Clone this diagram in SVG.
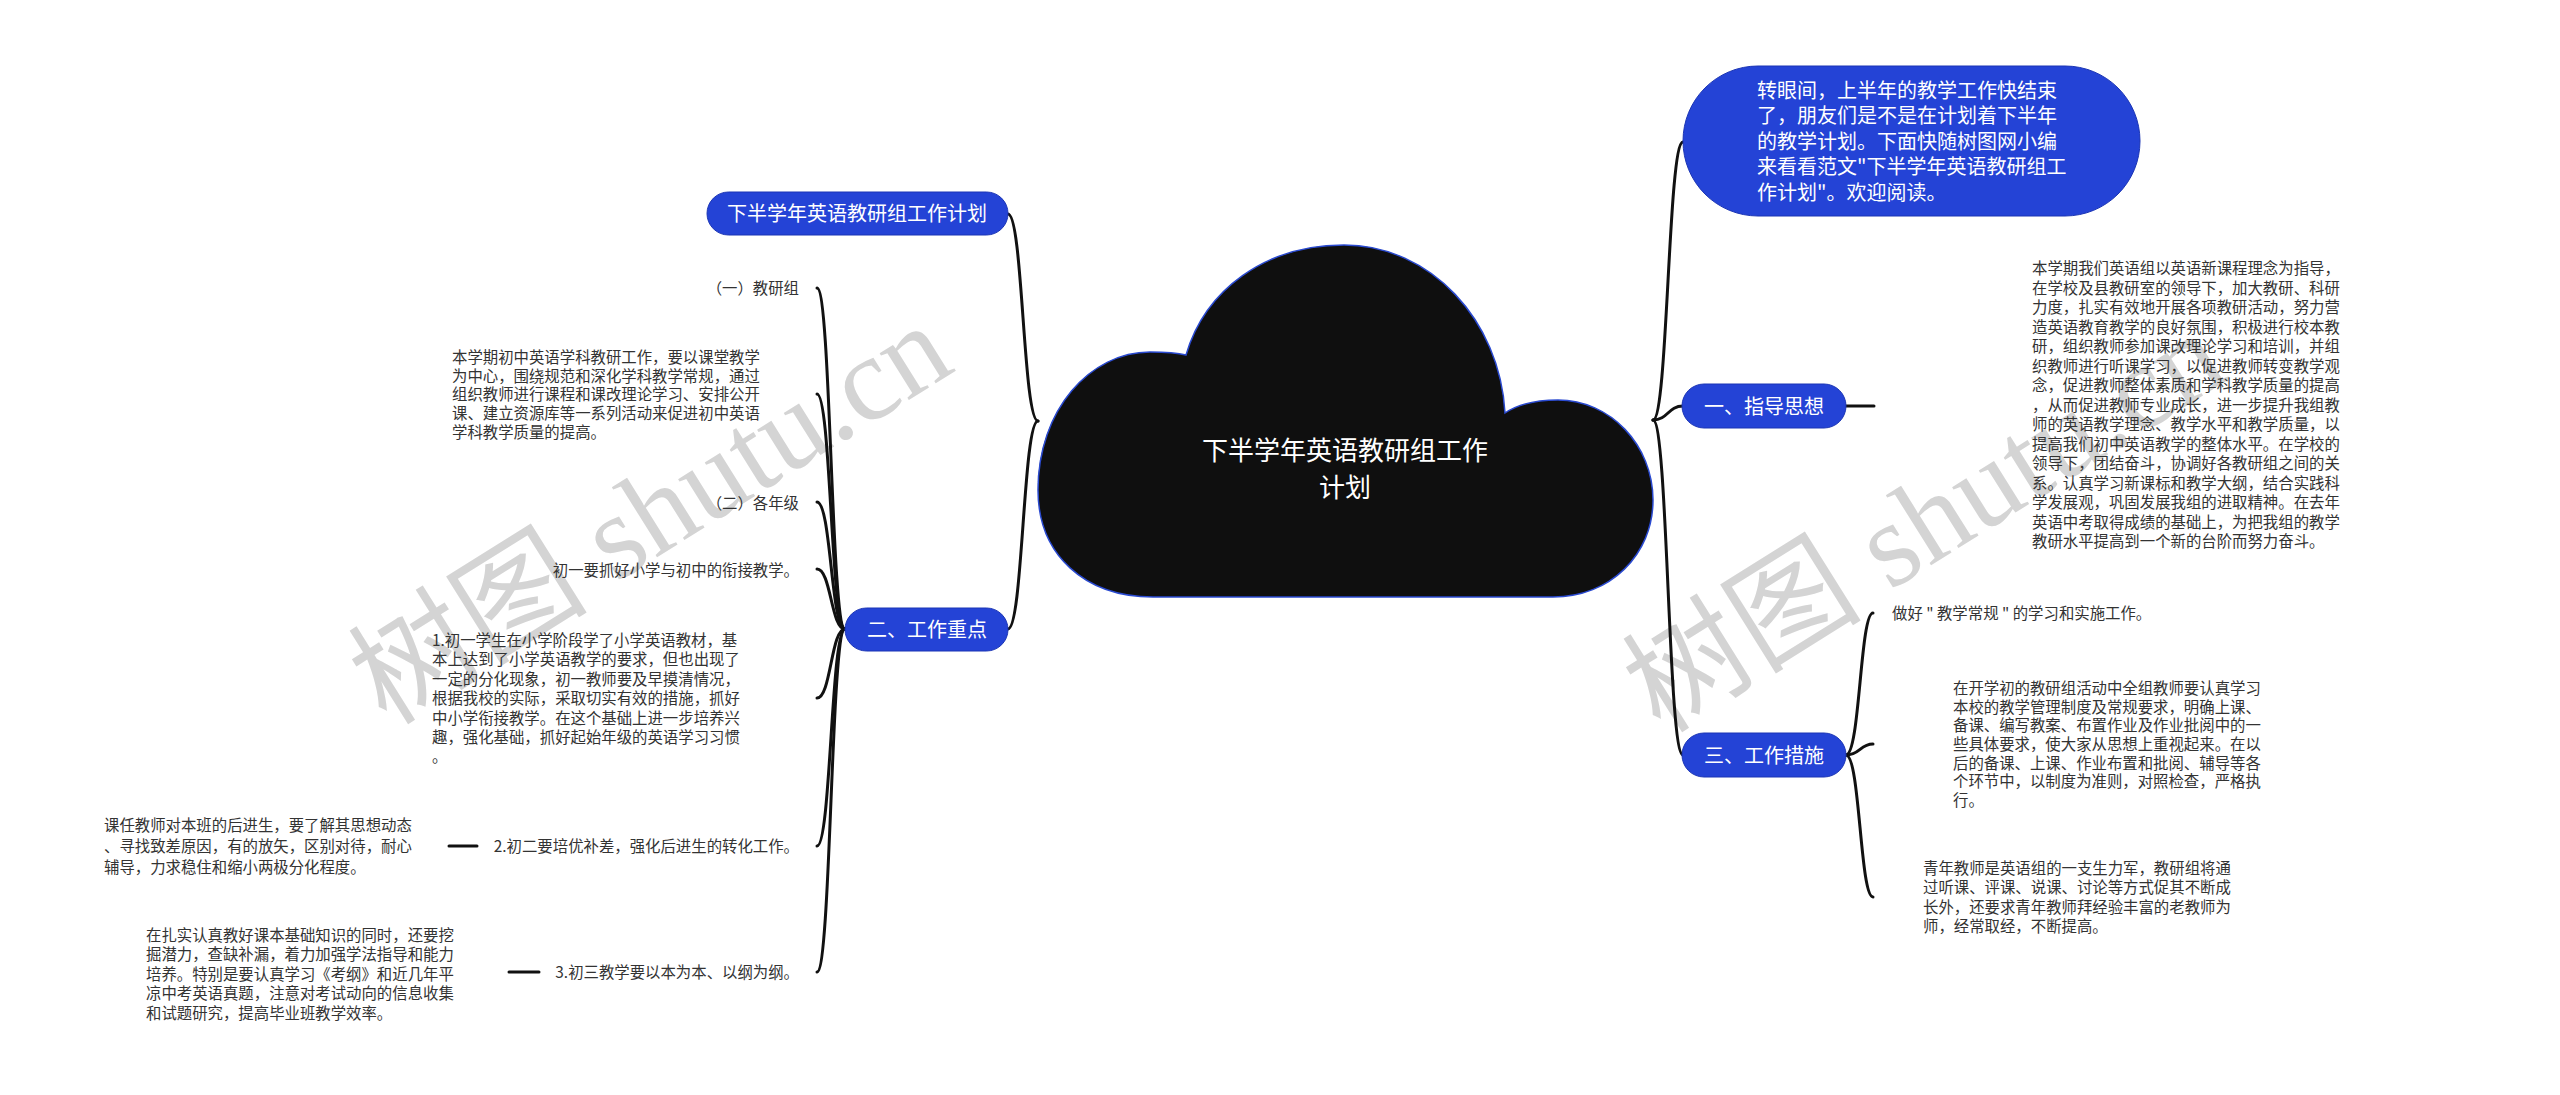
<svg xmlns="http://www.w3.org/2000/svg" width="2560" height="1095" viewBox="0 0 2560 1095">
<style>
.t{font-family:"Noto Sans CJK SC","Noto Sans",sans-serif;font-size:15.4px;fill:#333}
.w{font-family:"Noto Sans CJK SC","Noto Sans",sans-serif;font-size:20px;fill:#fff}
.pill{fill:#2443d6;stroke:#1b35b5;stroke-width:1}
.c{fill:none;stroke:#111;stroke-width:3;stroke-linecap:round}
.wm{font-family:"Liberation Serif","Noto Sans CJK SC",serif;font-size:120px;fill:#d4d4d4}
</style>
<rect width="2560" height="1095" fill="#fff"/>
<g id="watermark">
<text class="wm" text-anchor="middle" transform="translate(672,548) rotate(-32)">树图 shutu.cn</text>
<text class="wm" text-anchor="middle" transform="translate(1946,556) rotate(-32)">树图 shutu.cn</text>
</g>
<g id="connectors">
<path class="c" d="M1038 421 C1023 421 1023 214 1008 214"/>
<path class="c" d="M1038 421 C1023 421 1023 629 1008 629"/>
<path class="c" d="M845 629 C831 629 831 288 817 288"/>
<path class="c" d="M845 629 C831 629 831 394 817 394"/>
<path class="c" d="M845 629 C831 629 831 502 817 502"/>
<path class="c" d="M845 629 C831 629 831 569 817 569"/>
<path class="c" d="M845 629 C831 629 831 698 817 698"/>
<path class="c" d="M845 629 C831 629 831 846 817 846"/>
<path class="c" d="M845 629 C831 629 831 972 817 972"/>
<path class="c" d="M449 846 L477 846"/>
<path class="c" d="M509 972 L539 972"/>
<path class="c" d="M1653 420 C1668 420 1668 142 1683 142"/>
<path class="c" d="M1653 420 C1668 420 1668 406 1683 406"/>
<path class="c" d="M1653 420 C1668 420 1668 755 1683 755"/>
<path class="c" d="M1846 406 L1874 406"/>
<path class="c" d="M1846 755 C1860 755 1860 613 1873 613"/>
<path class="c" d="M1846 755 C1860 755 1860 744 1873 744"/>
<path class="c" d="M1846 755 C1860 755 1860 897 1873 897"/>
</g>
<g id="root">
<path d="M1153 597 C1085 597 1038 555 1038 490 C1038 410 1090 352 1150 352 C1165 352 1178 353 1186 355 C1205 290 1265 245 1344 245 C1430 245 1500 320 1505 413 C1520 403 1540 400 1558 400 C1610 400 1653 445 1653 500 C1653 555 1610 597 1553 597 Z" fill="#0f0f0f" stroke="#2a4ad0" stroke-width="1.5"/>
<text class="w" style="font-size:26px" text-anchor="middle"><tspan x="1345" y="460">下半学年英语教研组工作</tspan><tspan x="1345" y="497">计划</tspan></text>
</g>
<g id="b-title">
<rect class="pill" x="707" y="192" width="301" height="43" rx="21.5"/>
<text class="w" x="857" y="221" text-anchor="middle">下半学年英语教研组工作计划</text>
</g>
<g id="b-focus">
<rect class="pill" x="845" y="608" width="163" height="43" rx="21.5"/>
<text class="w" x="927" y="637" text-anchor="middle">二、工作重点</text>
</g>
<g id="n-jyz"><text class="t" x="799" y="294" text-anchor="end">（一）教研组</text></g>
<g id="n-jyz-p"><text class="t">
<tspan x="452" y="362.9">本学期初中英语学科教研工作，要以课堂教学</tspan>
<tspan x="452" y="381.6">为中心，围绕规范和深化学科教学常规，通过</tspan>
<tspan x="452" y="400.3">组织教师进行课程和课改理论学习、安排公开</tspan>
<tspan x="452" y="419">课、建立资源库等一系列活动来促进初中英语</tspan>
<tspan x="452" y="437.7">学科教学质量的提高。</tspan>
</text></g>
<g id="n-gnj"><text class="t" x="799" y="509" text-anchor="end">（二）各年级</text></g>
<g id="n-cy"><text class="t" x="799" y="576" text-anchor="end">初一要抓好小学与初中的衔接教学。</text></g>
<g id="n-cy-p"><text class="t">
<tspan x="432" y="645.9">1.初一学生在小学阶段学了小学英语教材，基</tspan>
<tspan x="432" y="665.3">本上达到了小学英语教学的要求，但也出现了</tspan>
<tspan x="432" y="684.7">一定的分化现象，初一教师要及早摸清情况，</tspan>
<tspan x="432" y="704.1">根据我校的实际，采取切实有效的措施，抓好</tspan>
<tspan x="432" y="723.5">中小学衔接教学。在这个基础上进一步培养兴</tspan>
<tspan x="432" y="742.9">趣，强化基础，抓好起始年级的英语学习习惯</tspan>
<tspan x="432" y="762.3">。</tspan>
</text></g>
<g id="n-ce"><text class="t" x="799" y="852" text-anchor="end">2.初二要培优补差，强化后进生的转化工作。</text></g>
<g id="n-ce-p"><text class="t">
<tspan x="104" y="830.9">课任教师对本班的后进生，要了解其思想动态</tspan>
<tspan x="104" y="851.9">、寻找致差原因，有的放矢，区别对待，耐心</tspan>
<tspan x="104" y="872.9">辅导，力求稳住和缩小两极分化程度。</tspan>
</text></g>
<g id="n-cs"><text class="t" x="799" y="978" text-anchor="end">3.初三教学要以本为本、以纲为纲。</text></g>
<g id="n-cs-p"><text class="t">
<tspan x="146" y="940.9">在扎实认真教好课本基础知识的同时，还要挖</tspan>
<tspan x="146" y="960.3">掘潜力，查缺补漏，着力加强学法指导和能力</tspan>
<tspan x="146" y="979.7">培养。特别是要认真学习《考纲》和近几年平</tspan>
<tspan x="146" y="999.1">凉中考英语真题，注意对考试动向的信息收集</tspan>
<tspan x="146" y="1018.5">和试题研究，提高毕业班教学效率。</tspan>
</text></g>
<g id="b-intro">
<rect class="pill" x="1683" y="66" width="457" height="150" rx="75"/>
<text class="w">
<tspan x="1757" y="97.6">转眼间，上半年的教学工作快结束</tspan>
<tspan x="1757" y="123.1">了，朋友们是不是在计划着下半年</tspan>
<tspan x="1757" y="148.6">的教学计划。下面快随树图网小编</tspan>
<tspan x="1757" y="174.1">来看看范文"下半学年英语教研组工</tspan>
<tspan x="1757" y="199.6">作计划"。欢迎阅读。</tspan>
</text>
</g>
<g id="b-guide">
<rect class="pill" x="1682" y="384" width="164" height="44" rx="22"/>
<text class="w" x="1764" y="413.6" text-anchor="middle">一、指导思想</text>
</g>
<g id="n-guide-p"><text class="t">
<tspan x="2032" y="274.2">本学期我们英语组以英语新课程理念为指导，</tspan>
<tspan x="2032" y="293.7">在学校及县教研室的领导下，加大教研、科研</tspan>
<tspan x="2032" y="313.2">力度，扎实有效地开展各项教研活动，努力营</tspan>
<tspan x="2032" y="332.7">造英语教育教学的良好氛围，积极进行校本教</tspan>
<tspan x="2032" y="352.2">研，组织教师参加课改理论学习和培训，并组</tspan>
<tspan x="2032" y="371.7">织教师进行听课学习，以促进教师转变教学观</tspan>
<tspan x="2032" y="391.2">念，促进教师整体素质和学科教学质量的提高</tspan>
<tspan x="2032" y="410.7">，从而促进教师专业成长，进一步提升我组教</tspan>
<tspan x="2032" y="430.2">师的英语教学理念、教学水平和教学质量，以</tspan>
<tspan x="2032" y="449.7">提高我们初中英语教学的整体水平。在学校的</tspan>
<tspan x="2032" y="469.2">领导下，团结奋斗，协调好各教研组之间的关</tspan>
<tspan x="2032" y="488.7">系。认真学习新课标和教学大纲，结合实践科</tspan>
<tspan x="2032" y="508.2">学发展观，巩固发展我组的进取精神。在去年</tspan>
<tspan x="2032" y="527.7">英语中考取得成绩的基础上，为把我组的教学</tspan>
<tspan x="2032" y="547.2">教研水平提高到一个新的台阶而努力奋斗。</tspan>
</text></g>
<g id="b-measure">
<rect class="pill" x="1682" y="733" width="164" height="44" rx="22"/>
<text class="w" x="1764" y="762.6" text-anchor="middle">三、工作措施</text>
</g>
<g id="n-m1"><text class="t" x="1892" y="619">做好 " 教学常规 " 的学习和实施工作。</text></g>
<g id="n-m2"><text class="t">
<tspan x="1953" y="694.2">在开学初的教研组活动中全组教师要认真学习</tspan>
<tspan x="1953" y="712.8">本校的教学管理制度及常规要求，明确上课、</tspan>
<tspan x="1953" y="731.4">备课、编写教案、布置作业及作业批阅中的一</tspan>
<tspan x="1953" y="750">些具体要求，使大家从思想上重视起来。在以</tspan>
<tspan x="1953" y="768.6">后的备课、上课、作业布置和批阅、辅导等各</tspan>
<tspan x="1953" y="787.2">个环节中，以制度为准则，对照检查，严格执</tspan>
<tspan x="1953" y="805.8">行。</tspan>
</text></g>
<g id="n-m3"><text class="t">
<tspan x="1923" y="873.9">青年教师是英语组的一支生力军，教研组将通</tspan>
<tspan x="1923" y="893.4">过听课、评课、说课、讨论等方式促其不断成</tspan>
<tspan x="1923" y="912.9">长外，还要求青年教师拜经验丰富的老教师为</tspan>
<tspan x="1923" y="932.4">师，经常取经，不断提高。</tspan>
</text></g>
</svg>
